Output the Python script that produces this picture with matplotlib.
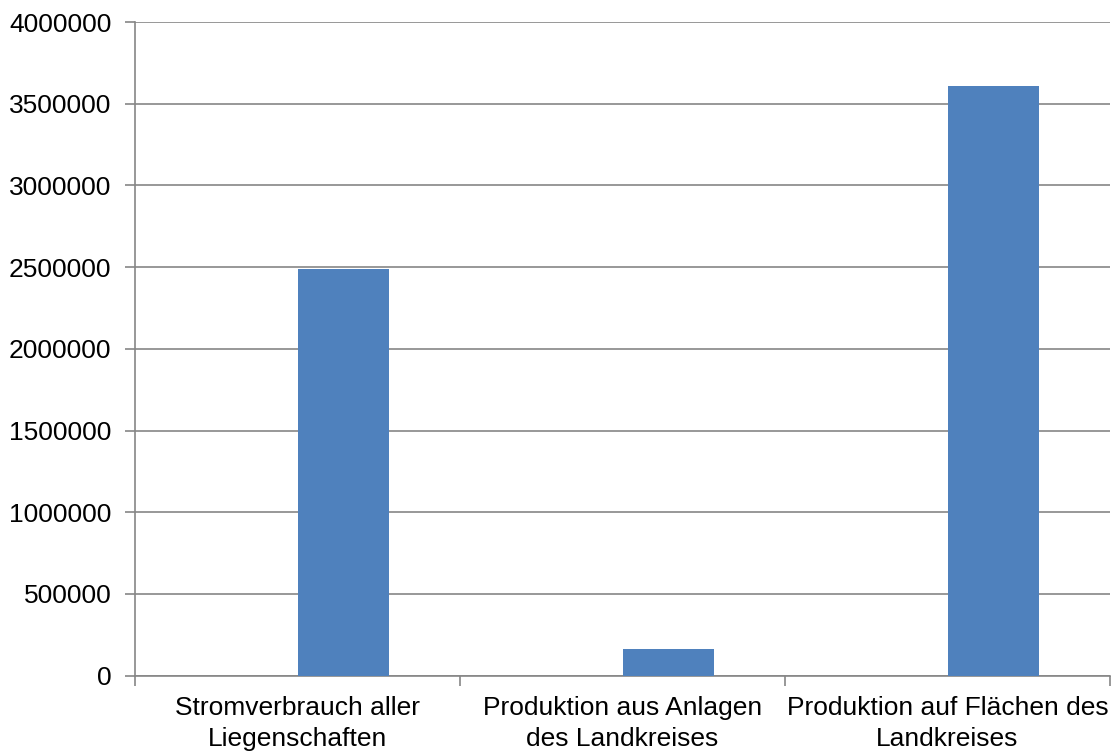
import matplotlib
matplotlib.use("Agg")
import matplotlib.pyplot as plt
import numpy as np

categories = ["Stromverbrauch aller\nLiegenschaften",
              "Produktion aus Anlagen\ndes Landkreises",
              "Produktion auf Flächen des\nLandkreises"]
values = [2490000, 165000, 3610000]
yticks = [0, 500000, 1000000, 1500000, 2000000, 2500000, 3000000, 3500000, 4000000]

plt.rcParams['font.family'] = ['Liberation Sans', 'DejaVu Sans']

fig = plt.figure(figsize=(11.12, 7.51), dpi=100)
ax = fig.add_axes([135/1112, 1 - 675.6/751, (1110-135)/1112, (675.6-22)/751])

x = np.arange(len(categories))
ax.bar(x, values, width=0.283, align='edge', color='#4F81BD', zorder=3)

ax.set_xlim(-0.5, len(categories) - 0.5)
ax.set_ylim(0, 4000000)
ax.set_yticks(yticks)
ax.set_yticklabels([str(v) for v in yticks])
ax.yaxis.grid(True, color='#868686', linewidth=1.2, zorder=0)
ax.set_axisbelow(True)

ax.set_xticks(x)
ax.set_xticklabels(categories, linespacing=1.35)
ax.set_xticks(np.arange(-0.5, len(categories)), minor=True)
ax.tick_params(axis='x', which='major', length=0, pad=15, labelsize=19)
ax.tick_params(axis='x', which='minor', length=7, color='#868686', width=1.2)
ax.tick_params(axis='y', length=7, color='#868686', width=1.2, pad=10, labelsize=19)

for s in ['top', 'right']:
    ax.spines[s].set_visible(False)
for s in ['left', 'bottom']:
    ax.spines[s].set_color('#868686')
    ax.spines[s].set_linewidth(1.2)

fig.savefig("out.png", dpi=100)
